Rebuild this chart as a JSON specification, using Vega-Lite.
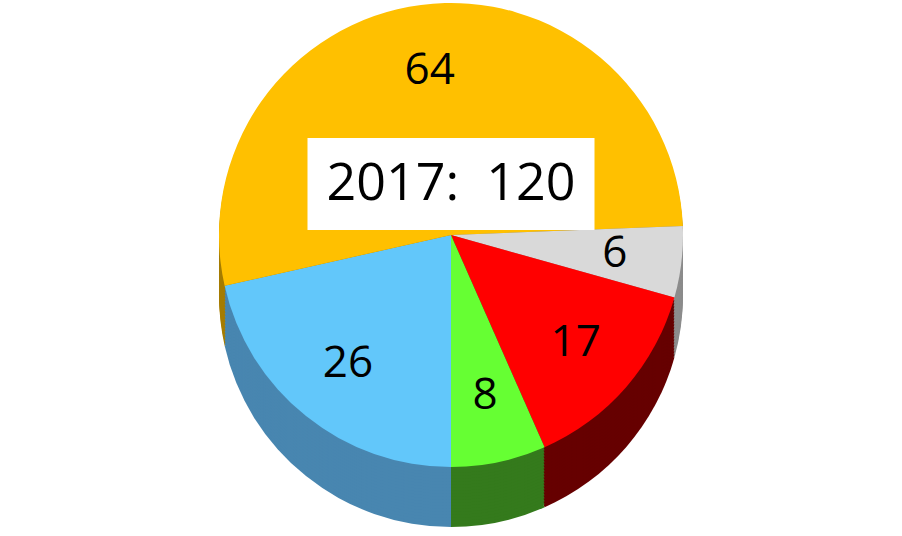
{
  "$schema": "https://vega.github.io/schema/vega-lite/v6.json",
  "width": 902,
  "height": 536,
  "autosize": {"type": "fit", "contains": "padding"},
  "padding": 0,
  "background": "white",
  "config": {"view": {"stroke": null}},
  "datasets": {
    "slices": [
      {"name": "B", "k": 1, "value": 26},
      {"name": "A", "k": 2, "value": 64},
      {"name": "C", "k": 3, "value": 6},
      {"name": "D", "k": 4, "value": 17},
      {"name": "E", "k": 5, "value": 8}
    ],
    "box": [{"label": "2017:\u00a0\u00a0120"}]
  },
  "encoding": {
    "theta": {"field": "value", "type": "quantitative", "stack": true, "scale": {"range": [3.14159, 9.42478]}},
    "order": {"field": "k"}
  },
  "layer": [
    {"data": {"name": "slices"}, "mark": {"type": "arc", "radius": 232, "yOffset": 27, "color": {"expr": "datum.name=='A'?'#A67D00':datum.name=='B'?'#4886B0':datum.name=='C'?'#8C8C8C':datum.name=='D'?'#660000':'#347A1C'"}}},
    {"data": {"name": "slices"}, "mark": {"type": "arc", "radius": 232, "yOffset": 24, "color": {"expr": "datum.name=='A'?'#A67D00':datum.name=='B'?'#4886B0':datum.name=='C'?'#8C8C8C':datum.name=='D'?'#660000':'#347A1C'"}}},
    {"data": {"name": "slices"}, "mark": {"type": "arc", "radius": 232, "yOffset": 21, "color": {"expr": "datum.name=='A'?'#A67D00':datum.name=='B'?'#4886B0':datum.name=='C'?'#8C8C8C':datum.name=='D'?'#660000':'#347A1C'"}}},
    {"data": {"name": "slices"}, "mark": {"type": "arc", "radius": 232, "yOffset": 18, "color": {"expr": "datum.name=='A'?'#A67D00':datum.name=='B'?'#4886B0':datum.name=='C'?'#8C8C8C':datum.name=='D'?'#660000':'#347A1C'"}}},
    {"data": {"name": "slices"}, "mark": {"type": "arc", "radius": 232, "yOffset": 15, "color": {"expr": "datum.name=='A'?'#A67D00':datum.name=='B'?'#4886B0':datum.name=='C'?'#8C8C8C':datum.name=='D'?'#660000':'#347A1C'"}}},
    {"data": {"name": "slices"}, "mark": {"type": "arc", "radius": 232, "yOffset": 12, "color": {"expr": "datum.name=='A'?'#A67D00':datum.name=='B'?'#4886B0':datum.name=='C'?'#8C8C8C':datum.name=='D'?'#660000':'#347A1C'"}}},
    {"data": {"name": "slices"}, "mark": {"type": "arc", "radius": 232, "yOffset": 9, "color": {"expr": "datum.name=='A'?'#A67D00':datum.name=='B'?'#4886B0':datum.name=='C'?'#8C8C8C':datum.name=='D'?'#660000':'#347A1C'"}}},
    {"data": {"name": "slices"}, "mark": {"type": "arc", "radius": 232, "yOffset": 6, "color": {"expr": "datum.name=='A'?'#A67D00':datum.name=='B'?'#4886B0':datum.name=='C'?'#8C8C8C':datum.name=='D'?'#660000':'#347A1C'"}}},
    {"data": {"name": "slices"}, "mark": {"type": "arc", "radius": 232, "yOffset": 3, "color": {"expr": "datum.name=='A'?'#A67D00':datum.name=='B'?'#4886B0':datum.name=='C'?'#8C8C8C':datum.name=='D'?'#660000':'#347A1C'"}}},
    {"data": {"name": "slices"}, "mark": {"type": "arc", "radius": 232, "yOffset": 0, "color": {"expr": "datum.name=='A'?'#A67D00':datum.name=='B'?'#4886B0':datum.name=='C'?'#8C8C8C':datum.name=='D'?'#660000':'#347A1C'"}}},
    {"data": {"name": "slices"}, "mark": {"type": "arc", "radius": 232, "yOffset": -3, "color": {"expr": "datum.name=='A'?'#A67D00':datum.name=='B'?'#4886B0':datum.name=='C'?'#8C8C8C':datum.name=='D'?'#660000':'#347A1C'"}}},
    {"data": {"name": "slices"}, "mark": {"type": "arc", "radius": 232, "yOffset": -6, "color": {"expr": "datum.name=='A'?'#A67D00':datum.name=='B'?'#4886B0':datum.name=='C'?'#8C8C8C':datum.name=='D'?'#660000':'#347A1C'"}}},
    {"data": {"name": "slices"}, "mark": {"type": "arc", "radius": 232, "yOffset": -9, "color": {"expr": "datum.name=='A'?'#A67D00':datum.name=='B'?'#4886B0':datum.name=='C'?'#8C8C8C':datum.name=='D'?'#660000':'#347A1C'"}}},
    {"data": {"name": "slices"}, "mark": {"type": "arc", "radius": 232, "yOffset": -12, "color": {"expr": "datum.name=='A'?'#A67D00':datum.name=='B'?'#4886B0':datum.name=='C'?'#8C8C8C':datum.name=='D'?'#660000':'#347A1C'"}}},
    {"data": {"name": "slices"}, "mark": {"type": "arc", "radius": 232, "yOffset": -15, "color": {"expr": "datum.name=='A'?'#A67D00':datum.name=='B'?'#4886B0':datum.name=='C'?'#8C8C8C':datum.name=='D'?'#660000':'#347A1C'"}}},
    {"data": {"name": "slices"}, "mark": {"type": "arc", "radius": 232, "yOffset": -18, "color": {"expr": "datum.name=='A'?'#A67D00':datum.name=='B'?'#4886B0':datum.name=='C'?'#8C8C8C':datum.name=='D'?'#660000':'#347A1C'"}}},
    {"data": {"name": "slices"}, "mark": {"type": "arc", "radius": 232, "yOffset": -21, "color": {"expr": "datum.name=='A'?'#A67D00':datum.name=='B'?'#4886B0':datum.name=='C'?'#8C8C8C':datum.name=='D'?'#660000':'#347A1C'"}}},
    {"data": {"name": "slices"}, "mark": {"type": "arc", "radius": 232, "yOffset": -24, "color": {"expr": "datum.name=='A'?'#A67D00':datum.name=='B'?'#4886B0':datum.name=='C'?'#8C8C8C':datum.name=='D'?'#660000':'#347A1C'"}}},
    {"data": {"name": "slices"}, "mark": {"type": "arc", "radius": 232, "yOffset": -27, "color": {"expr": "datum.name=='A'?'#A67D00':datum.name=='B'?'#4886B0':datum.name=='C'?'#8C8C8C':datum.name=='D'?'#660000':'#347A1C'"}}},
    {"data": {"name": "slices"}, "mark": {"type": "arc", "radius": 232, "yOffset": -30, "color": {"expr": "datum.name=='A'?'#A67D00':datum.name=='B'?'#4886B0':datum.name=='C'?'#8C8C8C':datum.name=='D'?'#660000':'#347A1C'"}}},
    {"data": {"name": "slices"}, "mark": {"type": "arc", "radius": 232, "yOffset": -33},
     "encoding": {
       "color": {"field": "name", "type": "nominal", "legend": null, "scale": {"domain": ["A","B","C","D","E"], "range": ["#FFC000","#62C7FA","#D9D9D9","#FF0000","#66FF33"]}}}},
    {"data": {"name": "slices"}, "mark": {"type": "text", "radius": 165, "yOffset": -33, "font": "Open Sans", "fontSize": 44, "color": "black", "baseline": "middle", "align": "center"},
     "encoding": {"text": {"field": "value", "type": "quantitative"}}},
    {"data": {"name": "box"}, "mark": {"type": "point", "shape": "M-1,-0.3206H1V0.3206H-1Z", "size": 82369, "filled": true, "color": "white", "opacity": 1, "yOffset": -84, "strokeWidth": 0},
     "encoding": {"theta": null, "order": null}},
    {"data": {"name": "box"}, "mark": {"type": "text", "yOffset": -84, "font": "Open Sans", "fontSize": 52, "color": "black", "baseline": "middle", "align": "center"},
     "encoding": {"theta": null, "order": null, "text": {"field": "label", "type": "nominal"}}}
  ]
}
